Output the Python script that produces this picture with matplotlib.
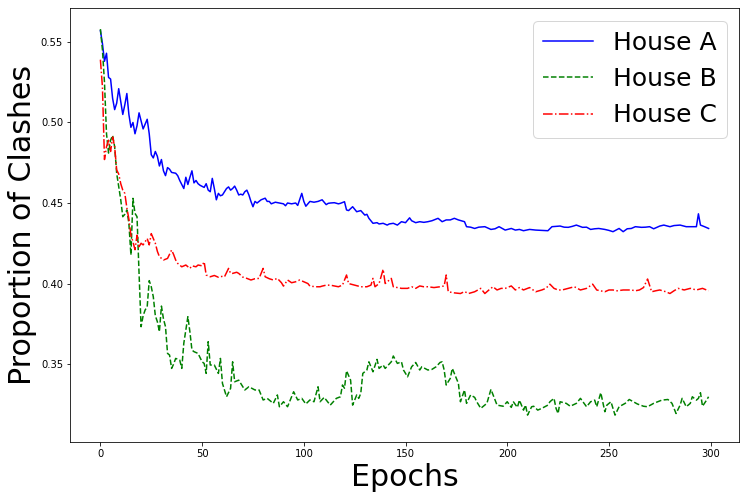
import matplotlib
matplotlib.use("Agg")
import matplotlib.pyplot as plt

# House A (blue, solid)
epochs_a = [0,1,2,3,4,5,6,7,8,9,10,11,12,13,14,15,16,17,18,19,20,21,22,23,24,25,26,27,28,29,30,31,32,33,34,35,37,38,39,41,42,43,44,45,46,47,48,49,51,52,53,54,55,56,57,58,59,60,61,62,63,64,65,66,67,68,69,70,71,72,73,74,75,76,77,78,79,80,81,82,83,84,86,88,90,91,92,94,96,97,99,100,101,103,105,107,109,110,111,112,113,115,117,118,120,121,122,124,126,128,130,131,132,134,136,137,139,141,142,144,146,148,150,152,153,155,157,159,161,163,164,166,168,170,172,174,176,179,180,182,184,186,189,192,194,196,199,202,204,206,208,211,214,217,220,222,224,226,228,230,232,234,237,239,241,243,245,248,250,252,255,257,259,261,263,266,268,270,272,275,277,280,282,285,288,291,293,294,295,297,299]
house_a = [0.557,0.549,0.538,0.543,0.528,0.527,0.515,0.508,0.512,0.521,0.513,0.505,0.511,0.518,0.505,0.497,0.500,0.493,0.498,0.506,0.501,0.496,0.499,0.502,0.493,0.480,0.478,0.482,0.479,0.473,0.477,0.470,0.467,0.472,0.471,0.469,0.4685,0.467,0.464,0.459,0.466,0.4615,0.466,0.470,0.4625,0.464,0.462,0.461,0.4597,0.462,0.458,0.457,0.4653,0.459,0.452,0.456,0.4545,0.455,0.457,0.459,0.460,0.458,0.459,0.4605,0.458,0.455,0.4555,0.455,0.457,0.458,0.455,0.451,0.4477,0.451,0.450,0.451,0.452,0.4525,0.453,0.451,0.451,0.4495,0.4505,0.450,0.4495,0.4483,0.450,0.4495,0.450,0.4485,0.456,0.451,0.448,0.451,0.4505,0.451,0.452,0.4505,0.449,0.4498,0.450,0.4502,0.4495,0.4498,0.4508,0.4457,0.4453,0.4477,0.4446,0.4453,0.4425,0.443,0.4405,0.4374,0.4378,0.437,0.4374,0.4363,0.437,0.4374,0.4363,0.4384,0.4378,0.4408,0.439,0.4378,0.4384,0.438,0.4384,0.439,0.4395,0.4405,0.4384,0.4395,0.4395,0.4405,0.4395,0.4384,0.4353,0.435,0.4342,0.435,0.4353,0.4336,0.434,0.4353,0.4332,0.4342,0.4332,0.4336,0.4328,0.4336,0.4332,0.433,0.4328,0.4353,0.4355,0.4357,0.435,0.4349,0.4355,0.4363,0.4349,0.435,0.4336,0.434,0.4342,0.4336,0.433,0.4322,0.4342,0.4322,0.434,0.4342,0.4353,0.4349,0.435,0.4353,0.434,0.4357,0.4363,0.4353,0.436,0.4363,0.4353,0.4353,0.4353,0.4433,0.4363,0.4353,0.4342]

# House B (green, dashed)
epochs_b = [0,1,2,3,4,5,6,7,8,9,10,11,12,13,14,15,16,17,18,19,20,21,22,23,24,25,26,27,28,29,30,31,32,33,34,35,36,37,39,40,41,43,44,45,46,48,50,51,52,53,54,56,58,59,60,62,64,65,66,68,70,71,73,76,78,80,82,85,87,88,90,92,95,97,99,101,103,105,107,108,110,113,116,118,119,120,121,123,124,126,127,128,129,131,132,134,136,137,139,140,143,144,146,148,149,151,153,155,157,158,161,163,165,167,168,169,170,172,173,175,176,177,179,180,182,184,185,187,190,192,195,198,200,202,203,205,206,208,209,210,212,213,215,217,220,221,223,224,225,226,229,231,234,236,239,241,243,244,246,248,249,251,253,255,258,260,262,264,267,269,272,274,276,279,281,283,285,286,288,290,291,293,294,295,296,298,299]
house_b = [0.558,0.545,0.525,0.493,0.481,0.489,0.492,0.485,0.4684,0.460,0.452,0.4415,0.443,0.4457,0.4374,0.4177,0.4529,0.4436,0.4415,0.4063,0.3732,0.380,0.3836,0.3856,0.4018,0.398,0.3918,0.380,0.3763,0.3701,0.386,0.378,0.3732,0.3566,0.3556,0.3473,0.350,0.3535,0.3525,0.3473,0.3629,0.3794,0.370,0.3587,0.3577,0.3566,0.3514,0.3504,0.3442,0.3639,0.3494,0.3494,0.3442,0.3535,0.3380,0.3297,0.3349,0.3514,0.339,0.340,0.336,0.3339,0.3359,0.3339,0.3339,0.3277,0.3287,0.3256,0.3308,0.3235,0.3266,0.3235,0.3328,0.3277,0.3287,0.3252,0.3277,0.3266,0.3359,0.3266,0.3293,0.3245,0.3287,0.3297,0.337,0.335,0.3458,0.340,0.3245,0.3308,0.3287,0.3318,0.3442,0.3463,0.3514,0.3452,0.3529,0.3473,0.3494,0.3473,0.3514,0.355,0.3504,0.3514,0.3463,0.3421,0.3483,0.351,0.3463,0.3483,0.3463,0.3467,0.3483,0.351,0.3514,0.3463,0.337,0.3411,0.3473,0.3411,0.338,0.3266,0.3339,0.3256,0.3308,0.3293,0.3266,0.3225,0.3256,0.3343,0.3245,0.3238,0.3266,0.3231,0.3266,0.3231,0.3276,0.3214,0.3245,0.3183,0.3235,0.3238,0.3214,0.3225,0.3245,0.3266,0.3287,0.3225,0.3193,0.3266,0.3256,0.3238,0.3256,0.3287,0.3235,0.3266,0.3276,0.3235,0.3322,0.3204,0.3245,0.3266,0.3183,0.3235,0.3256,0.328,0.3266,0.3252,0.3238,0.3235,0.3256,0.3266,0.3276,0.328,0.3256,0.3193,0.3245,0.3287,0.3235,0.3256,0.3297,0.3276,0.3287,0.3322,0.3238,0.3276,0.3297]

# House C (red, dash-dot)
epochs_c = [0,1,2,3,4,5,6,7,8,9,10,11,12,13,14,15,16,17,18,19,20,21,22,23,24,25,26,27,28,29,31,33,35,36,37,38,40,42,44,45,47,48,50,51,52,54,56,58,60,61,63,64,65,67,68,70,72,74,76,78,80,81,83,85,87,89,90,92,94,96,98,100,102,103,106,108,109,111,113,115,117,119,121,122,125,128,131,133,134,135,137,139,140,143,144,146,148,151,153,155,157,159,161,164,167,169,170,171,174,177,179,181,184,187,189,191,193,195,197,199,202,204,206,208,211,214,217,219,221,223,225,227,230,233,236,239,242,244,248,250,252,254,257,261,263,265,267,269,271,273,275,278,280,282,284,287,290,293,296,299]
house_c = [0.539,0.522,0.477,0.485,0.489,0.482,0.491,0.485,0.4705,0.468,0.462,0.458,0.456,0.447,0.440,0.430,0.426,0.421,0.430,0.4229,0.425,0.424,0.426,0.428,0.424,0.431,0.428,0.425,0.420,0.4167,0.4146,0.4156,0.4208,0.418,0.4146,0.4125,0.4104,0.4115,0.4094,0.411,0.4104,0.4115,0.411,0.4135,0.4053,0.4042,0.405,0.4039,0.4045,0.4042,0.4094,0.4063,0.4063,0.407,0.4063,0.404,0.4032,0.4022,0.403,0.4032,0.4094,0.4042,0.403,0.4022,0.4032,0.4005,0.3984,0.4022,0.4005,0.4011,0.4022,0.4011,0.400,0.3984,0.398,0.398,0.3984,0.399,0.399,0.3985,0.398,0.399,0.4053,0.400,0.399,0.398,0.398,0.399,0.4032,0.398,0.400,0.4088,0.400,0.4032,0.398,0.3975,0.397,0.397,0.398,0.397,0.3985,0.398,0.398,0.3975,0.398,0.3985,0.4053,0.3949,0.3942,0.3938,0.395,0.3938,0.3949,0.397,0.3938,0.396,0.398,0.396,0.397,0.397,0.3985,0.396,0.3975,0.396,0.3975,0.3949,0.396,0.397,0.3996,0.397,0.396,0.396,0.397,0.398,0.396,0.397,0.3996,0.396,0.3949,0.396,0.396,0.3955,0.396,0.396,0.3955,0.396,0.3975,0.4028,0.3949,0.3955,0.396,0.3949,0.3938,0.3955,0.397,0.396,0.397,0.396,0.397,0.3955]

labels = ["House A", "House B", "House C"]

fig = plt.figure(figsize=(746/72, 499/72), dpi=72)
ax = fig.add_axes([70/746, 57/499, 669/746, 434/499])
ax.plot(epochs_a, house_a, color="blue", linestyle="-", linewidth=1.5, label=labels[0])
ax.plot(epochs_b, house_b, color="green", linestyle="--", linewidth=1.5, label=labels[1])
ax.plot(epochs_c, house_c, color="red", linestyle="-.", linewidth=1.5, label=labels[2])
ax.set_xlim(-14.95, 313.95)
ax.set_ylim(0.3016, 0.5711)
ax.set_xticks([0, 50, 100, 150, 200, 250, 300])
ax.set_yticks([0.35, 0.40, 0.45, 0.50, 0.55])
ax.set_yticklabels(["0.35", "0.40", "0.45", "0.50", "0.55"])
ax.tick_params(labelsize=10)
ax.set_xlabel("Epochs", fontsize=30)
ax.set_ylabel("Proportion of Clashes", fontsize=30)
ax.legend(loc="upper right", fontsize=25)
fig.savefig("out.png", dpi=72)
